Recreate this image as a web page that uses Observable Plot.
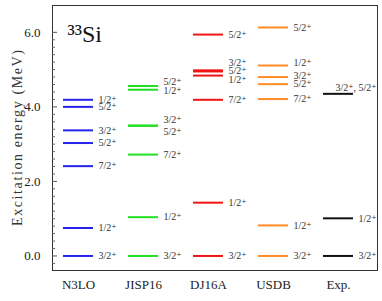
<!DOCTYPE html>
<html><head><meta charset="utf-8">
<script src="https://cdn.jsdelivr.net/npm/d3@7"></script>
<script src="https://cdn.jsdelivr.net/npm/@observablehq/plot@0.6"></script>
<style>
body{margin:0;background:#fff;}
#chart svg, #chart svg text { font-family: "Liberation Serif", "DejaVu Serif", serif !important; }
</style>
</head><body><div id="chart"></div>
<script>
// Categories
const models = ["N3LO", "JISP16", "DJ16A", "USDB", "Exp."];
const colors = ["#2424ee", "#22e022", "#f01414", "#ff8c26", "#111111"];

// Level energies (MeV), spins, and label heights (MeV) per model
const n3loE      = [0, 0.75, 2.41, 3.03, 3.37, 4.00, 4.19];
const n3loJ      = ["3/2", "1/2", "7/2", "5/2", "3/2", "5/2", "1/2"];
const n3loLabE   = [0, 0.75, 2.41, 3.03, 3.37, 4.00, 4.19];

const jispE      = [0, 1.04, 2.72, 3.49, 3.50, 4.46, 4.56];
const jispJ      = ["3/2", "1/2", "7/2", "5/2", "3/2", "1/2", "5/2"];
const jispLabE   = [0, 1.04, 2.71, 3.32, 3.64, 4.42, 4.68];

const dj16E      = [0, 1.43, 4.19, 4.84, 4.95, 4.98, 5.94];
const dj16J      = ["3/2", "1/2", "7/2", "1/2", "5/2", "3/2", "5/2"];
const dj16LabE   = [0, 1.43, 4.18, 4.73, 4.96, 5.19, 5.94];

const usdbE      = [0, 0.82, 4.21, 4.61, 4.80, 5.11, 6.13];
const usdbJ      = ["3/2", "1/2", "7/2", "5/2", "3/2", "1/2", "5/2"];
const usdbLabE   = [0, 0.82, 4.22, 4.62, 4.83, 5.17, 6.13];

const expE       = [0, 1.01, 4.35];
const expJ       = ["3/2", "1/2", "3/2, 5/2"];
const expLabE    = [0, 1.01, 4.52];

const yMajor = [0, 2, 4, 6];
const yMinor = d3.range(-1, 31).filter(i => i % 10 !== 0).map(i => i / 5);

const groups = [
  [n3loE, n3loJ, n3loLabE],
  [jispE, jispJ, jispLabE],
  [dj16E, dj16J, dj16LabE],
  [usdbE, usdbJ, usdbLabE],
  [expE, expJ, expLabE]
];
const levels = [];
groups.forEach(([E, J, L], g) => {
  E.forEach((e, i) => levels.push({
    model: models[g], E: e, labE: L[i],
    label: J[i].split(", ").map(s => s + "\u207A").join(", "),
    wide: J[i].includes(",")
  }));
});

const plot = Plot.plot({
  width: 382,
  height: 301,
  marginLeft: 52,
  marginRight: 5,
  marginTop: 5,
  marginBottom: 31,
  style: {fontSize: "13px", color: "#222", background: "#fff"},
  x: {type: "band", domain: models, paddingInner: 0.538, paddingOuter: 0.269, align: 0.314, axis: null, label: null},
  y: {domain: [-0.39, 6.72], axis: null, label: null},
  color: {domain: models, range: colors},
  marks: [
    Plot.frame({stroke: "#333", strokeWidth: 1}),
    Plot.axisY(yMinor, {tickSize: -3, tickFormat: () => "", stroke: "#666", label: null}),
    Plot.axisY(yMajor, {tickSize: -5, tickPadding: 17, tickFormat: d3.format(".1f"), stroke: "#555", fontSize: 13, label: null}),
    Plot.axisX({tickSize: 0, tickPadding: 9, fontSize: 13, label: null}),
    Plot.tickY(levels, {x: "model", y: "E", stroke: "model", strokeWidth: 2}),
    Plot.text(levels.filter(d => !d.wide), {x: "model", y: "labE", text: "label", dx: 20, textAnchor: "start", fontSize: 10, fill: "#333"}),
    Plot.text(levels.filter(d => d.wide), {x: "model", y: "labE", text: "label", dx: -3, textAnchor: "start", fontSize: 10, fill: "#333"}),
    Plot.text(["\u00B3\u00B3Si"], {frameAnchor: "top-left", dx: 15, dy: 36, lineAnchor: "bottom", textAnchor: "start", fontSize: 24, fill: "#111"}),
    Plot.text(["Excitation energy (MeV)"], {frameAnchor: "left", dx: -35, rotate: -90, textAnchor: "middle", fontSize: 14, fill: "#333"})
  ]
});
d3.select(plot).selectAll("text")
  .filter(function() { return this.textContent === "Excitation energy (MeV)"; })
  .attr("textLength", 176)
  .attr("lengthAdjust", "spacing");
document.getElementById("chart").appendChild(plot);
</script>
</body></html>
